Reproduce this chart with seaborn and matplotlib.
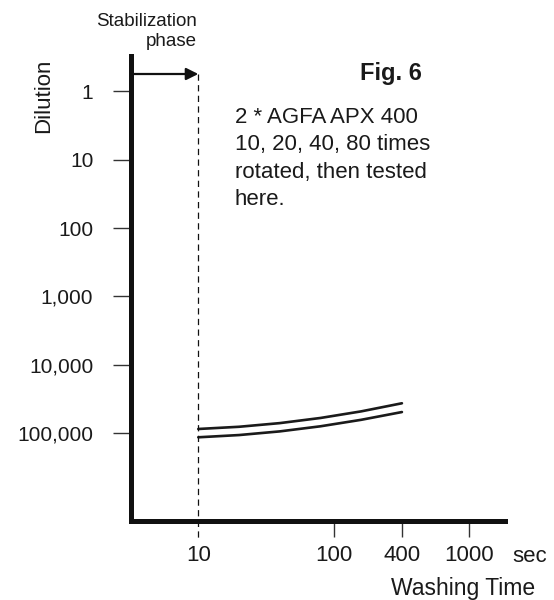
import numpy as np
import pandas as pd
import matplotlib
matplotlib.use("Agg")
import matplotlib.pyplot as plt
import matplotlib.transforms as mtransforms
import seaborn as sns

# ---- data ----
washing_time = [10, 20, 40, 80, 160, 320]
upper_curve = [86500, 80300, 71000, 59700, 47800, 36400]
lower_curve = [114400, 106100, 93800, 79000, 63500, 48900]

x_tick_pos = [10, 100, 320, 1000]
x_tick_labels = ["10", "100", "400", "1000"]
y_tick_pos = [1, 10, 100, 1000, 10000, 100000]
y_tick_labels = ["1", "10", "100", "1,000", "10,000", "100,000"]
stabilization_end = 10

annotation_lines = ["2 * AGFA APX 400", "10, 20, 40, 80 times",
                    "rotated, then tested", "here."]

df = pd.DataFrame({
    "time": washing_time * 2,
    "dilution": upper_curve + lower_curve,
    "series": ["upper"] * len(washing_time) + ["lower"] * len(washing_time),
})

sns.set_theme(style="white")
plt.rcParams["font.family"] = ["Liberation Sans", "DejaVu Sans"]

W, H = 554, 600
fig = plt.figure(figsize=(W / 100, H / 100), dpi=100)
ax_left, ax_right, ax_top, ax_bottom = 130.5, 505, 56, 521
ax = fig.add_axes([ax_left / W, 1 - ax_bottom / H,
                   (ax_right - ax_left) / W, (ax_bottom - ax_top) / H])

sns.lineplot(data=df, x="time", y="dilution", hue="series", units="series",
             estimator=None, palette=["#1a1a1a", "#1a1a1a"], linewidth=1.9,
             legend=False, ax=ax)

ax.set_xscale("log")
ax.set_yscale("log")
ax.set_xlim(3.155, 1849)
ax.set_ylim(1.915e6, 0.305)
ax.xaxis.set_minor_locator(matplotlib.ticker.NullLocator())
ax.yaxis.set_minor_locator(matplotlib.ticker.NullLocator())
ax.set_xticks(x_tick_pos)
ax.set_xticklabels(x_tick_labels)
ax.set_yticks(y_tick_pos)
ax.set_yticklabels(y_tick_labels)
ax.set_xlabel("")
ax.set_ylabel("")

for s in ["top", "right"]:
    ax.spines[s].set_visible(False)
for s in ["left", "bottom"]:
    ax.spines[s].set_linewidth(3.6)
    ax.spines[s].set_color("#111111")

ax.tick_params(axis="x", which="major", bottom=True, direction="out",
               length=11.5, width=1.0, color="#333333", pad=6, labelsize=16,
               labelcolor="#1a1a1a")
ax.tick_params(axis="y", which="major", left=True, direction="out",
               length=13.3, width=1.0, color="#333333", pad=13.5,
               labelsize=15, labelcolor="#1a1a1a")
ax.xaxis.get_major_ticks()[0].tick1line.set_visible(False)

# dashed stabilization line and arrow
trans = mtransforms.blended_transform_factory(ax.transData, ax.transAxes)
y_arrow = (ax_bottom - 74) / (ax_bottom - ax_top)
y_dash_end = (ax_bottom - 538) / (ax_bottom - ax_top)
ax.plot([stabilization_end, stabilization_end], [y_arrow, y_dash_end],
        transform=trans, color="#111111", lw=0.9, ls=(0, (5, 3.5)),
        clip_on=False)
ax.annotate("", xy=(stabilization_end, y_arrow),
            xycoords=("data", "axes fraction"),
            xytext=(0.005, y_arrow), textcoords="axes fraction",
            arrowprops=dict(arrowstyle="-|>", lw=1.6, color="#111111",
                            mutation_scale=18, shrinkA=0, shrinkB=0))


def ftext(x, y, s, **kw):
    fig.text(x / W, 1 - y / H, s, color="#1a1a1a", **kw)


ftext(197, 26, "Stabilization", ha="right", va="baseline", fontsize=13.5)
ftext(197, 46.5, "phase", ha="right", va="baseline", fontsize=13.5)
ftext(422, 80, "Fig. 6", ha="right", va="baseline", fontsize=17,
      fontweight="bold")
for i, line in enumerate(annotation_lines):
    ftext(235, 122.7 + i * 27.5, line, ha="left", va="baseline", fontsize=16)
ftext(44, 96, "Dilution", ha="center", va="center", fontsize=16, rotation=90)
ftext(512, 561.7, "sec", ha="left", va="baseline", fontsize=16)
ftext(535, 595, "Washing Time", ha="right", va="baseline", fontsize=16.5)

fig.savefig("out.png", dpi=100)
